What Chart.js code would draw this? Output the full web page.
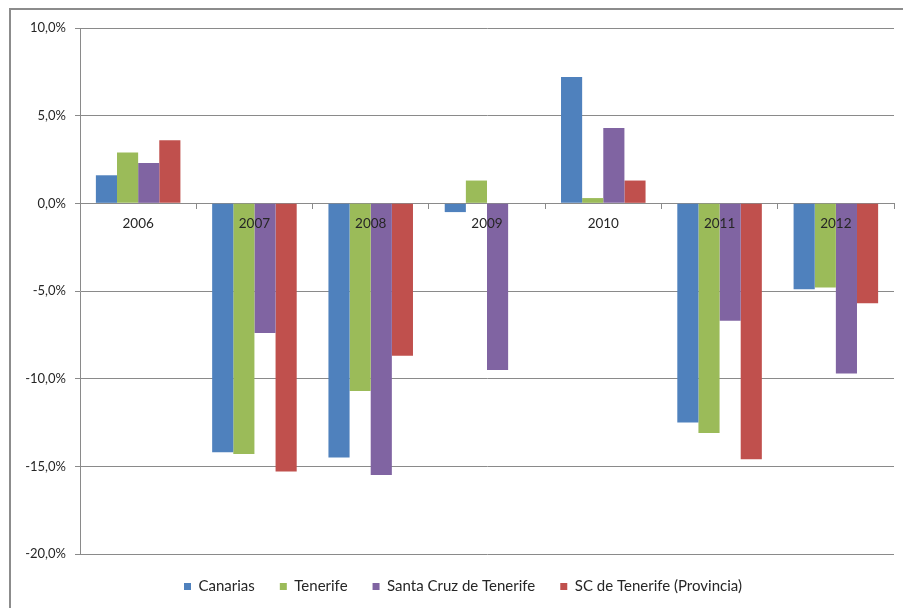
<!DOCTYPE html>
<html>
<head>
<meta charset="utf-8">
<script src="https://cdn.jsdelivr.net/npm/chart.js@4.4.1/dist/chart.umd.min.js"></script>
<style>
  html, body { margin: 0; padding: 0; background: #fff; overflow: hidden; }
  #wrap { position: relative; width: 903px; height: 608px; overflow: hidden; }
  #frame { position: absolute; left: 9px; top: 8px; width: 1000px; height: 1000px;
           border-left: 2px solid #8c8c8c; border-top: 2px solid #8c8c8c; pointer-events: none; }
  canvas { position: absolute; left: 0; top: 0; }
</style>
</head>
<body>
<div id="wrap">
  <div id="frame"></div>
  <canvas id="c" width="903" height="608"></canvas>
</div>
<script>
const categories = ['2006', '2007', '2008', '2009', '2010', '2011', '2012'];
const seriesNames = ['Canarias', 'Tenerife', 'Santa Cruz de Tenerife', 'SC de Tenerife (Provincia)'];
const canarias   = [1.6, -14.2, -14.5, -0.5, 7.2, -12.5, -4.9];
const tenerife   = [2.9, -14.3, -10.7, 1.3, 0.3, -13.1, -4.8];
const santaCruz  = [2.3, -7.4, -15.5, -9.5, 4.3, -6.7, -9.7];
const scProvincia = [3.6, -15.3, -8.7, null, 1.3, -14.6, -5.7];
const yTicks = [10, 5, 0, -5, -10, -15, -20];

const colors = ['#4F81BD', '#9BBB59', '#8064A2', '#C0504D'];
const seriesValues = [canarias, tenerife, santaCruz, scProvincia];

const FONT = 'Lato, "Open Sans", sans-serif';
const TEXT = '#262626';
const GRID = '#8a8a8a';

const legendShift = {
  id: 'legendShift',
  afterLayout(chart) {
    const lg = chart.legend;
    if (lg) { lg.left += 11; lg.right += 11; }
  }
};

new Chart(document.getElementById('c'), {
  type: 'bar',
  data: {
    labels: categories,
    datasets: seriesNames.map((name, i) => ({
      label: name,
      data: seriesValues[i],
      backgroundColor: colors[i],
      borderWidth: 0,
      categoryPercentage: 0.727,
      barPercentage: 1.0
    }))
  },
  plugins: [legendShift],
  options: {
    responsive: false,
    animation: false,
    devicePixelRatio: 1,
    layout: { padding: { left: 10, right: 9, top: 28, bottom: 4 } },
    plugins: {
      tooltip: { enabled: false },
      legend: {
        position: 'bottom',
        labels: {
          boxWidth: 7, boxHeight: 7, padding: 25,
          color: TEXT,
          font: { family: FONT, size: 15 }
        }
      }
    },
    scales: {
      x: {
        position: { y: 0 },
        grid: { drawOnChartArea: false, drawTicks: true, tickLength: 5, color: GRID, offset: true },
        border: { color: GRID, width: 1 },
        ticks: { z: 1, color: TEXT, font: { family: FONT, size: 13.5 }, padding: 7, maxRotation: 0 }
      },
      y: {
        min: -20, max: 10,
        afterFit: s => { s.width = 70; },
        afterBuildTicks: s => { s.ticks = yTicks.map(v => ({ value: v })); },
        grid: { color: GRID, tickLength: 5, lineWidth: 1 },
        border: { color: GRID, width: 1 },
        ticks: {
          color: TEXT, font: { family: FONT, size: 13 }, padding: 9,
          callback: v => v.toFixed(1).replace('.', ',') + '%'
        }
      }
    }
  }
});
</script>
</body>
</html>
